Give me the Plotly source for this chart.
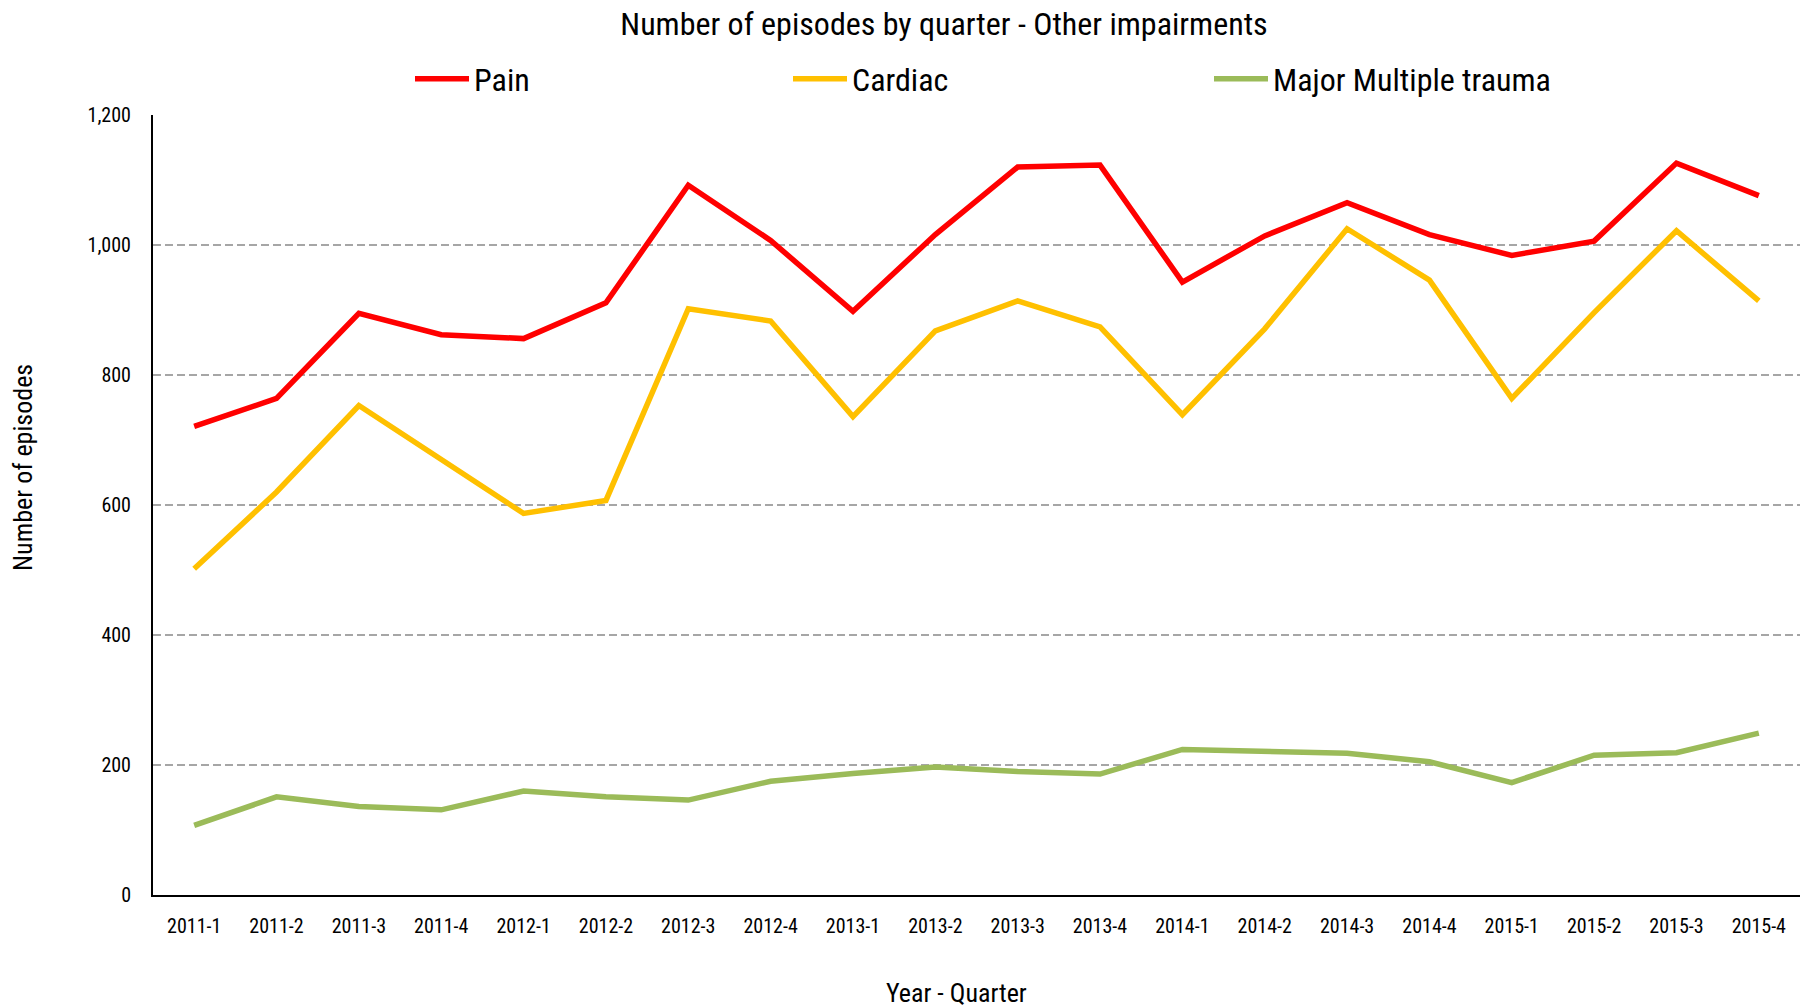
import plotly.graph_objects as go

quarters = ["2011-1", "2011-2", "2011-3", "2011-4",
            "2012-1", "2012-2", "2012-3", "2012-4",
            "2013-1", "2013-2", "2013-3", "2013-4",
            "2014-1", "2014-2", "2014-3", "2014-4",
            "2015-1", "2015-2", "2015-3", "2015-4"]

pain = [721, 764, 895, 862, 856, 911, 1092, 1007, 898, 1016,
        1120, 1123, 943, 1014, 1065, 1016, 984, 1006, 1126, 1076]

cardiac = [502, 620, 753, 670, 587, 607, 902, 883, 736, 868,
           914, 874, 739, 871, 1025, 946, 764, 896, 1022, 914]

major_multiple_trauma = [107, 151, 136, 131, 160, 151, 146, 175, 187, 197,
                         190, 186, 224, 221, 218, 205, 173, 215, 219, 249]

y_ticks = [0, 200, 400, 600, 800, 1000, 1200]

FONT = "Liberation Sans Narrow, Arial Narrow, Roboto Condensed, sans-serif"

W, H = 1800, 1007
ML, MR, MT, MB = 153, 0, 115, 112
PW, PH = W - ML - MR, H - MT - MB


def px_x(p):
    return (p - ML) / PW


def px_y(p):
    return (H - MB - p) / PH


series = [
    ("Pain", pain, "#FF0000", "legend"),
    ("Cardiac", cardiac, "#FFC000", "legend2"),
    ("Major Multiple trauma", major_multiple_trauma, "#9BBB59", "legend3"),
]

fig = go.Figure()
for name, vals, color, leg in series:
    fig.add_trace(go.Scatter(
        x=quarters, y=vals, name=name, mode="lines",
        line=dict(color=color, width=5.5),
        legend=leg, showlegend=True,
    ))

legend_common = dict(
    orientation="h", yanchor="middle", xanchor="left",
    font=dict(family=FONT, size=32, color="#000000"),
    bgcolor="rgba(0,0,0,0)", itemwidth=54, visible=True,
)
legend_left_px = [410, 788, 1209]

fig.update_layout(
    width=W, height=H, showlegend=True,
    margin=dict(l=ML, r=MR, t=MT, b=MB, autoexpand=False),
    paper_bgcolor="white", plot_bgcolor="white",
    title=dict(
        text="Number of episodes by quarter - Other impairments",
        x=944 / W, xref="container", xanchor="center",
        y=1 - 24 / H, yref="container", yanchor="middle",
        font=dict(family=FONT, size=32, color="#000000"),
    ),
    legend=dict(x=px_x(legend_left_px[0]), y=px_y(79), **legend_common),
    legend2=dict(x=px_x(legend_left_px[1]), y=px_y(79), **legend_common),
    legend3=dict(x=px_x(legend_left_px[2]), y=px_y(79), **legend_common),
    xaxis=dict(
        type="category", range=[-0.5, len(quarters) - 0.5],
        showgrid=False, showline=True, linecolor="#000000", linewidth=2,
        ticks="", tickfont=dict(family=FONT, size=20, color="#000000"),
        ticklabelstandoff=12, zeroline=False, automargin=False,
    ),
    yaxis=dict(
        range=[0, 1200], tickvals=y_ticks,
        tickformat=",d",
        showgrid=True, gridcolor="#A6A6A6", gridwidth=1.5, griddash="8px,4px",
        showline=True, linecolor="#000000", linewidth=2,
        ticks="", tickfont=dict(family=FONT, size=20, color="#000000"),
        ticklabelstandoff=16, zeroline=False, automargin=False,
    ),
    annotations=[
        dict(text="Number of episodes", textangle=-90,
             xref="paper", yref="paper", x=px_x(23), y=px_y(468),
             xanchor="center", yanchor="middle", showarrow=False,
             font=dict(family=FONT, size=26, color="#000000")),
        dict(text="Year - Quarter",
             xref="paper", yref="paper", x=px_x(956), y=px_y(993),
             xanchor="center", yanchor="middle", showarrow=False,
             font=dict(family=FONT, size=26, color="#000000")),
    ],
)

fig.write_html("out.html")
